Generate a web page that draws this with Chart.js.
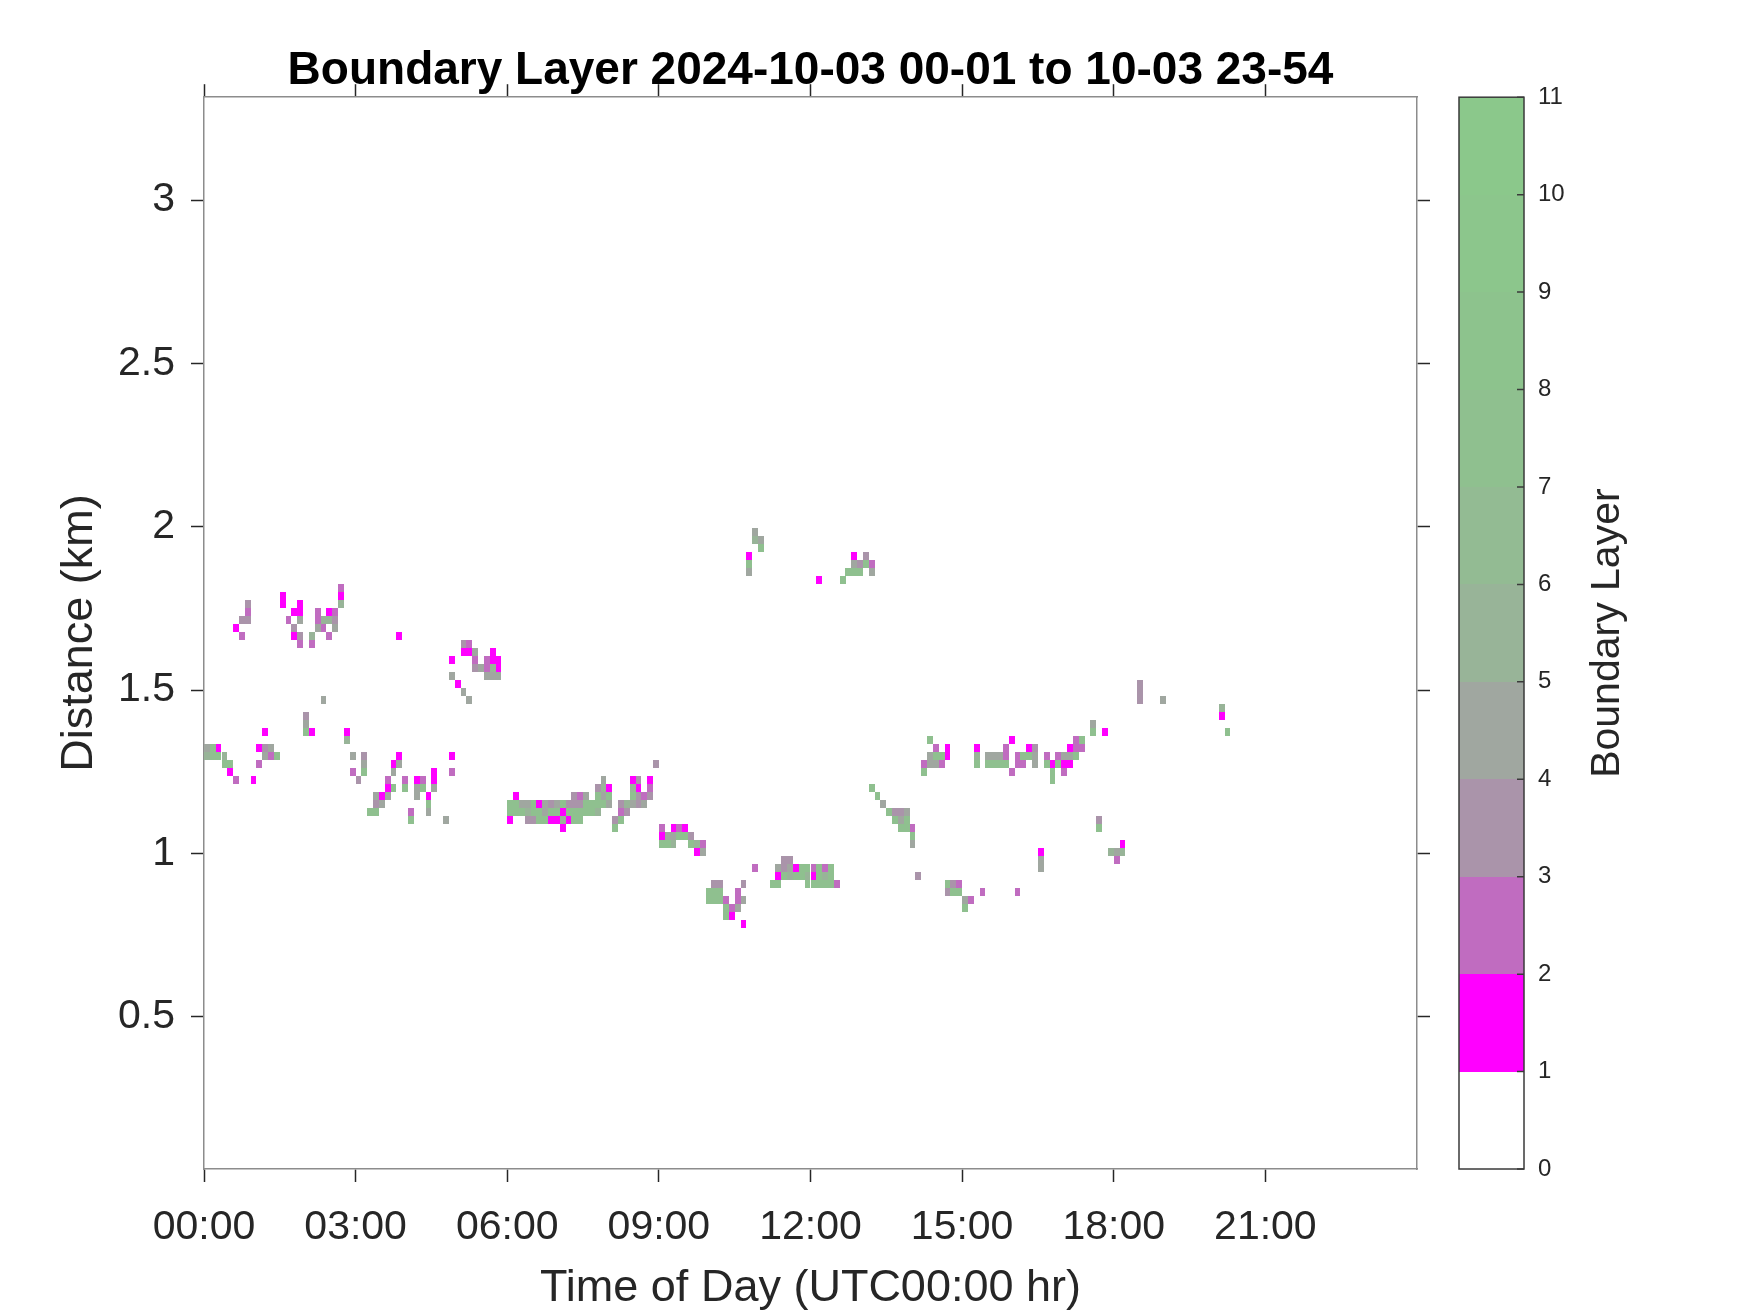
<!DOCTYPE html>
<html>
<head>
<meta charset="utf-8">
<title>Boundary Layer</title>
<script src="https://cdn.jsdelivr.net/npm/chart.js@4.4.1/dist/chart.umd.min.js"></script>
<style>
  html, body { margin: 0; padding: 0; background: #fff; }
</style>
</head>
<body>
<canvas id="blChart" width="1750" height="1313"></canvas>
<script>
const chartTitle = "Boundary Layer 2024-10-03 00-01 to 10-03 23-54";
const xAxisTitle = "Time of Day (UTC00:00 hr)";
const yAxisTitle = "Distance (km)";
const colorbarLabel = "Boundary Layer";

const xTickHours = [0, 3, 6, 9, 12, 15, 18, 21];
const xTickLabels = ["00:00", "03:00", "06:00", "09:00", "12:00", "15:00", "18:00", "21:00"];
const yTickKm = [0.5, 1, 1.5, 2, 2.5, 3];
const yTickLabels = ["0.5", "1", "1.5", "2", "2.5", "3"];
const colorbarTicks = [0, 1, 2, 3, 4, 5, 6, 7, 8, 9, 10, 11];

// colour of each unit step of the colour bar (0-1, 1-2, ... 10-11)
const levelColors = ["#ffffff", "#ff00ff", "#c06cc0", "#aa94aa", "#a0a7a0", "#98b498",
                     "#93bb93", "#8fc08f", "#8dc38d", "#8cc68c", "#8bc88b"];

const binHours = 0.1154;  // time bin of one profile
const gateKm = 0.0245;    // range gate

// detected cells, one row per range gate: height (km), times (hours), level
const rowKm = [
  1.813, 1.789, 1.764, 1.740, 1.715, 1.691, 1.666, 1.642, 1.617, 1.593,
  1.568, 1.544, 1.519, 1.495, 1.470, 1.446, 1.421, 1.397, 1.372, 1.348,
  1.323, 1.299, 1.274, 1.250, 1.225, 1.201, 1.176, 1.152, 1.127, 1.103,
  1.078, 1.054, 1.029, 1.005, 0.980, 0.956, 0.931, 0.907, 0.882, 0.858,
  0.833, 0.809, 0.784, 1.985, 1.960, 1.936, 1.911, 1.887, 1.862, 1.838
];

const rowTimes = [
  [2.712],
  [1.558, 2.712],
  [0.865, 1.558, 1.904, 2.712],
  [0.865, 1.788, 1.904, 2.250, 2.481, 2.596],
  [0.750, 0.865, 1.673, 1.904, 2.250, 2.365, 2.481, 2.596],
  [0.635, 1.788, 2.250, 2.365, 2.596],
  [0.750, 1.788, 1.904, 2.135, 2.481, 3.865],
  [1.904, 2.135, 5.135, 5.250],
  [5.135, 5.250, 5.365, 5.712],
  [4.904, 5.365, 5.596, 5.712, 5.827],
  [5.365, 5.481, 5.596, 5.712, 5.827],
  [4.904, 5.596, 5.712, 5.827],
  [5.019, 18.519],
  [5.135, 18.519],
  [2.365, 5.250, 18.519, 18.981],
  [20.135],
  [2.019, 20.135],
  [2.019, 17.596],
  [1.212, 2.019, 2.135, 2.827, 17.596, 17.827, 20.250],
  [2.827, 14.365, 15.981, 17.250, 17.365],
  [0.058, 0.173, 0.288, 1.096, 1.212, 1.327,
   14.481, 14.712, 15.288, 15.865, 16.327, 16.442, 17.135, 17.250, 17.365],
  [0.058, 0.173, 0.288, 0.404, 1.212, 1.327, 1.442, 2.942, 3.173, 3.865, 4.904,
   14.365, 14.481, 14.596, 14.712, 15.288, 15.519, 15.635, 15.750, 15.865, 16.096,
   16.212, 16.327, 16.442, 16.673, 16.904, 17.019, 17.135, 17.250],
  [0.404, 0.519, 1.096, 3.173, 3.750, 3.865, 8.942,
   14.250, 14.365, 14.481, 14.596, 15.288, 15.519, 15.635, 15.750, 15.865, 16.096,
   16.212, 16.442, 16.673, 16.788, 16.904, 17.019, 17.135],
  [0.519, 2.942, 3.173, 3.750, 4.558, 4.904, 14.250, 15.981, 16.788, 17.019],
  [0.635, 0.981, 3.058, 3.635, 3.981, 4.212, 4.327, 4.558, 7.904, 8.481, 8.596, 8.827, 16.788],
  [3.635, 3.750, 3.981, 4.212, 4.327, 4.558, 7.788, 7.904, 8.019, 8.481, 8.596, 8.827, 13.212],
  [3.404, 3.519, 3.635, 4.212, 4.442, 6.173, 7.327, 7.442, 7.558, 7.788, 7.904, 8.019,
   8.481, 8.596, 8.712, 8.827, 13.327],
  [3.404, 3.519, 4.442, 6.058, 6.173, 6.288, 6.404, 6.519, 6.635, 6.750, 6.865, 6.981,
   7.096, 7.212, 7.327, 7.442, 7.558, 7.673, 7.788, 7.904, 8.019, 8.250, 8.365, 8.481,
   8.596, 8.712, 13.442],
  [3.288, 3.404, 4.096, 4.442, 6.058, 6.173, 6.288, 6.404, 6.519, 6.635, 6.750, 6.865,
   6.981, 7.096, 7.212, 7.327, 7.442, 7.558, 7.673, 7.788, 8.250, 8.365,
   13.558, 13.673, 13.788, 13.904],
  [4.096, 4.788, 6.058, 6.404, 6.519, 6.635, 6.750, 6.865, 6.981, 7.096, 7.212, 7.327,
   7.442, 8.135, 8.250, 13.673, 13.788, 13.904, 17.712],
  [7.096, 8.135, 9.058, 9.288, 9.404, 9.519, 13.788, 13.904, 14.019, 17.712],
  [9.058, 9.173, 9.288, 9.404, 9.519, 9.635, 14.019],
  [9.058, 9.173, 9.288, 9.635, 9.750, 9.865, 14.019, 18.173],
  [9.750, 9.865, 16.558, 17.942, 18.058, 18.173],
  [11.481, 11.596, 16.558, 18.058],
  [10.904, 11.365, 11.481, 11.596, 11.712, 11.827, 11.942, 12.058, 12.173, 12.288, 12.404, 16.558],
  [11.365, 11.481, 11.596, 11.712, 11.827, 11.942, 12.058, 12.173, 12.288, 12.404, 14.135],
  [10.096, 10.212, 10.673, 11.250, 11.365, 11.942, 12.058, 12.173, 12.288, 12.404, 12.519,
   14.712, 14.827, 14.942],
  [9.981, 10.096, 10.212, 10.558, 14.712, 14.827, 14.942, 15.404, 16.096],
  [9.981, 10.096, 10.212, 10.327, 10.558, 10.673, 15.058, 15.173],
  [10.327, 10.442, 10.558, 15.058],
  [10.327, 10.442],
  [10.673],
  [10.904],
  [10.904, 11.019],
  [11.019],
  [10.788, 12.865, 13.096],
  [10.788, 12.865, 12.981, 13.096, 13.212],
  [10.788, 12.750, 12.865, 12.981, 13.212],
  [12.173, 12.635]
];

const rowLevels = [
  [2],
  [1, 1],
  [3, 1, 1, 5],
  [2, 1, 1, 2, 1, 2],
  [3, 3, 2, 4, 2, 5, 5, 3],
  [1, 3, 4, 2, 4],
  [2, 1, 3, 5, 2, 1],
  [2, 2, 3, 2],
  [1, 1, 4, 1],
  [1, 2, 2, 1, 1],
  [3, 4, 2, 5, 1],
  [4, 4, 4, 4],
  [1, 3],
  [4, 3],
  [4, 4, 3, 4],
  [5],
  [3, 1],
  [4, 4],
  [1, 7, 1, 1, 7, 1, 7],
  [5, 7, 1, 2, 7],
  [4, 7, 1, 1, 3, 4, 2, 1, 1, 2, 1, 3, 1, 2, 2],
  [5, 7, 7, 5, 4, 2, 7, 4, 3, 1, 1, 4, 7, 7, 1, 5, 4, 4, 4, 2, 2, 7, 7, 4, 2, 2, 4, 4, 7],
  [7, 7, 2, 4, 1, 4, 3, 2, 4, 4, 2, 7, 7, 7, 7, 7, 2, 2, 4, 7, 1, 7, 1, 1],
  [1, 2, 7, 4, 1, 2, 7, 2, 7, 2],
  [2, 1, 3, 2, 2, 1, 2, 1, 4, 1, 3, 1, 7],
  [1, 7, 7, 4, 7, 4, 3, 5, 1, 5, 1, 2, 7],
  [4, 1, 4, 4, 1, 1, 3, 2, 4, 7, 4, 7, 7, 3, 2, 3, 7],
  [3, 4, 7, 7, 7, 4, 4, 7, 1, 4, 3, 4, 7, 3, 3, 3, 7, 7, 7, 7, 4, 3, 5, 4, 3, 4, 4],
  [7, 7, 2, 4, 7, 7, 7, 5, 7, 7, 4, 7, 7, 1, 7, 7, 7, 7, 7, 5, 2, 3, 7, 3, 3, 4],
  [7, 4, 1, 3, 3, 7, 7, 1, 1, 5, 1, 7, 7, 3, 7, 7, 4, 7, 3],
  [1, 7, 2, 1, 2, 1, 7, 7, 2, 7],
  [1, 4, 4, 7, 7, 3, 7],
  [7, 7, 5, 7, 5, 2, 4, 1],
  [1, 4, 1, 5, 4, 5],
  [3, 3, 4, 2],
  [2, 4, 3, 4, 1, 7, 7, 2, 7, 2, 7, 4],
  [1, 7, 5, 7, 7, 5, 1, 7, 5, 7, 3],
  [3, 3, 3, 7, 7, 7, 7, 7, 7, 7, 2, 7, 3, 2],
  [7, 7, 7, 2, 3, 7, 7, 2, 2],
  [7, 7, 7, 2, 2, 4, 4, 2],
  [7, 2, 4, 7],
  [7, 1],
  [1],
  [4],
  [5, 4],
  [7],
  [1, 1, 3],
  [7, 4, 3, 7, 2],
  [4, 7, 7, 7, 4],
  [1, 7]
];

const points = [];
rowKm.forEach((km, r) => {
  rowTimes[r].forEach((hr, j) => {
    points.push({ x: hr, y: km, v: rowLevels[r][j] });
  });
});

const fontFamily = "'Liberation Sans', Arial, Helvetica, sans-serif";
const ink = "#262626";
const boxGrey = "#8c8c8c";

Chart.defaults.font.family = fontFamily;

// draws each detection as a cell of one time bin by one range gate
const cellPlugin = {
  id: "cells",
  beforeDatasetsDraw(chart) {
    const { ctx, chartArea, scales: { x, y } } = chart;
    ctx.save();
    ctx.beginPath();
    ctx.rect(chartArea.left, chartArea.top, chartArea.width, chartArea.height);
    ctx.clip();
    chart.data.datasets[0].data.forEach(p => {
      const x0 = Math.round(x.getPixelForValue(p.x - binHours / 2));
      const x1 = Math.round(x.getPixelForValue(p.x + binHours / 2));
      const y0 = Math.round(y.getPixelForValue(p.y + gateKm / 2));
      const y1 = Math.round(y.getPixelForValue(p.y - gateKm / 2));
      ctx.fillStyle = levelColors[Math.floor(p.v)];
      ctx.fillRect(x0, y0, x1 - x0, y1 - y0);
    });
    ctx.restore();
  }
};

const colorbarPlugin = {
  id: "colorbar",
  afterDraw(chart) {
    const { ctx } = chart;
    const cb = chart.scales.cb;
    const right = cb.left;
    const left = right - 65;
    ctx.save();
    levelColors.forEach((c, i) => {
      const top = Math.round(cb.getPixelForValue(i + 1));
      const bottom = Math.round(cb.getPixelForValue(i));
      ctx.fillStyle = c;
      ctx.fillRect(left, top, right - left, bottom - top);
    });
    ctx.strokeStyle = "#3a3a3a";
    ctx.lineWidth = 1.5;
    ctx.strokeRect(left, cb.top, right - left, cb.bottom - cb.top);
    ctx.beginPath();
    cb.ticks.forEach(t => {
      const yy = cb.getPixelForValue(t.value);
      ctx.moveTo(right - 7, yy);
      ctx.lineTo(right, yy);
    });
    ctx.stroke();
    ctx.translate(right + 84, (cb.top + cb.bottom) / 2);
    ctx.rotate(-Math.PI / 2);
    ctx.fillStyle = ink;
    ctx.font = "41px " + fontFamily;
    ctx.textAlign = "center";
    ctx.textBaseline = "middle";
    ctx.fillText(colorbarLabel, 0, 0);
    ctx.restore();
  }
};

const tickGrid = { drawOnChartArea: false, tickLength: 13, tickColor: ink, tickWidth: 1.5 };
const boxBorder = { color: boxGrey, width: 1.5 };

new Chart(document.getElementById("blChart"), {
  type: "scatter",
  data: {
    datasets: [{
      label: "Boundary Layer",
      data: points,
      pointRadius: 0,
      pointHoverRadius: 0
    }]
  },
  options: {
    responsive: false,
    animation: false,
    devicePixelRatio: 1,
    events: [],
    layout: { padding: 0 },
    plugins: {
      legend: { display: false },
      tooltip: { enabled: false },
      title: {
        display: true,
        text: chartTitle,
        fullSize: false,
        color: "#000",
        font: { size: 46, weight: "bold" },
        padding: { top: 44, bottom: -2 }
      }
    },
    scales: {
      x: {
        type: "linear", position: "bottom", min: 0, max: 24, bounds: "data",
        afterBuildTicks: s => { s.ticks = xTickHours.map(v => ({ value: v })); },
        afterFit: s => { s.height = 144; },
        ticks: {
          callback: (v, i) => xTickLabels[i],
          color: ink, font: { size: 41 }, padding: 21, maxRotation: 0, autoSkip: false
        },
        grid: tickGrid,
        border: boxBorder,
        title: { display: true, text: xAxisTitle, color: ink, font: { size: 45, lineHeight: 1.1 }, padding: { top: 0, bottom: 0 } }
      },
      xTop: {
        type: "linear", position: "top", min: 0, max: 24, bounds: "data",
        afterBuildTicks: s => { s.ticks = xTickHours.map(v => ({ value: v })); },
        afterFit: s => { s.height = 0; },
        ticks: { display: false },
        grid: tickGrid,
        border: boxBorder
      },
      y: {
        type: "linear", position: "left", min: 0.034, max: 3.315, bounds: "data",
        afterBuildTicks: s => { s.ticks = yTickKm.map(v => ({ value: v })); },
        afterFit: s => { s.width = 204; },
        ticks: {
          callback: (v, i) => yTickLabels[i],
          color: ink, font: { size: 41 }, padding: 16
        },
        grid: tickGrid,
        border: boxBorder,
        title: { display: true, text: yAxisTitle, color: ink, font: { size: 45 }, padding: { top: 53, bottom: 0 } }
      },
      yRight: {
        type: "linear", position: "right", min: 0.034, max: 3.315, bounds: "data", weight: 0,
        afterBuildTicks: s => { s.ticks = yTickKm.map(v => ({ value: v })); },
        afterFit: s => { s.width = 107; },
        ticks: { display: false },
        grid: tickGrid,
        border: boxBorder
      },
      cb: {
        type: "linear", position: "right", min: 0, max: 11, bounds: "data", weight: 1,
        afterBuildTicks: s => { s.ticks = colorbarTicks.map(v => ({ value: v })); },
        afterFit: s => { s.width = 226; },
        ticks: { color: ink, font: { size: 24 }, padding: 14 },
        grid: { drawOnChartArea: false, drawTicks: false },
        border: { display: false }
      }
    }
  },
  plugins: [cellPlugin, colorbarPlugin]
});
</script>
</body>
</html>
